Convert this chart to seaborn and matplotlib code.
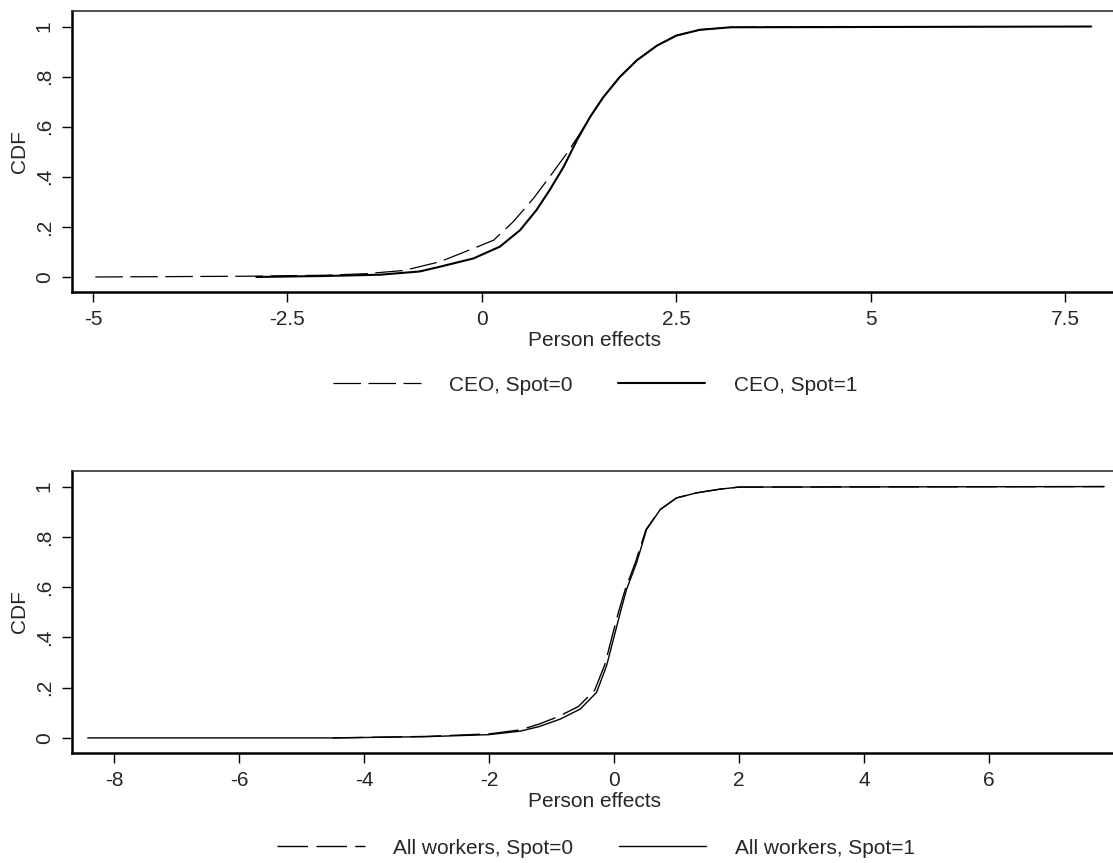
import matplotlib
matplotlib.use("Agg")

import matplotlib.pyplot as plt
import seaborn as sns

sns.set_style("ticks")
plt.rcParams.update({
    "font.family": ["Liberation Sans", "DejaVu Sans"],
    "font.size": 15,
    "axes.unicode_minus": False,
})

# CEO panel
ceo_x_spot0 = [-4.97, -3.0, -2.0, -1.5, -1.0, -0.54, -0.11, 0.15, 0.40, 0.66, 0.87,
               1.09, 1.26, 1.39, 1.56, 1.77, 1.99, 2.25, 2.50, 2.80, 3.2, 4.7]
ceo_y_spot0 = [0.0, 0.003, 0.007, 0.013, 0.026, 0.061, 0.114, 0.147, 0.22, 0.313, 0.40,
               0.493, 0.573, 0.639, 0.718, 0.798, 0.865, 0.924, 0.964, 0.987, 0.997, 1.0]
ceo_x_spot1 = [-2.9, -2.0, -1.31, -0.80, -0.54, -0.11, 0.23, 0.49, 0.70, 0.87, 1.05,
               1.22, 1.39, 1.56, 1.77, 1.99, 2.25, 2.50, 2.80, 3.2, 7.83]
ceo_y_spot1 = [0.0, 0.004, 0.009, 0.022, 0.041, 0.074, 0.121, 0.187, 0.267, 0.347, 0.44,
               0.546, 0.639, 0.718, 0.798, 0.865, 0.924, 0.964, 0.987, 0.997, 1.0]

# all workers panel
all_x_spot0 = [-4.5, -3.0, -2.0, -1.5, -1.2, -0.89, -0.57, -0.31, -0.15, -0.04, 0.07,
               0.18, 0.34, 0.51, 0.74, 1.0, 1.32, 1.7, 2.0, 7.84]
all_y_spot0 = [0.0, 0.006, 0.016, 0.032, 0.055, 0.085, 0.125, 0.19, 0.29, 0.395, 0.50,
               0.592, 0.697, 0.829, 0.909, 0.955, 0.975, 0.99, 0.998, 1.0]
all_x_spot1 = [-8.42, -4.5, -3.0, -2.0, -1.5, -1.2, -0.86, -0.54, -0.28, -0.12, -0.01,
               0.10, 0.20, 0.36, 0.52, 0.74, 1.0, 1.32, 1.7, 2.0, 7.84]
all_y_spot1 = [0.0, 0.0, 0.005, 0.013, 0.027, 0.045, 0.075, 0.115, 0.181, 0.287, 0.393,
               0.499, 0.591, 0.697, 0.829, 0.909, 0.955, 0.975, 0.99, 0.998, 1.0]

y_ticks = [0, 0.2, 0.4, 0.6, 0.8, 1.0]
y_labels = ["0", ".2", ".4", ".6", ".8", "1"]
ceo_ticks = [-5, -2.5, 0, 2.5, 5, 7.5]
ceo_labels = ["-5", "-2.5", "0", "2.5", "5", "7.5"]
all_ticks = [-8, -6, -4, -2, 0, 2, 4, 6]
all_labels = ["-8", "-6", "-4", "-2", "0", "2", "4", "6"]

W, H = 1113, 863
fig = plt.figure(figsize=(W / 100, H / 100), dpi=100)
ax1 = fig.add_axes([72 / W, 1 - 292 / H, (1116 - 72) / W, (292 - 11) / H])
ax2 = fig.add_axes([72 / W, 1 - 753 / H, (1116 - 72) / W, (753 - 471) / H])

dash = (0, (22, 6))

sns.lineplot(x=ceo_x_spot0, y=ceo_y_spot0, ax=ax1, color="black", linewidth=0.9,
             linestyle=dash, sort=False, label="CEO, Spot=0")
sns.lineplot(x=ceo_x_spot1, y=ceo_y_spot1, ax=ax1, color="black", linewidth=1.5,
             sort=False, label="CEO, Spot=1")
sns.lineplot(x=all_x_spot0, y=all_y_spot0, ax=ax2, color="black", linewidth=1.0,
             linestyle=dash, sort=False, label="All workers, Spot=0")
sns.lineplot(x=all_x_spot1, y=all_y_spot1, ax=ax2, color="black", linewidth=1.0,
             sort=False, label="All workers, Spot=1")

setup = [
    (ax1, (-5.27, 8.15), ceo_ticks, ceo_labels, 1 - 385 / H, 595 / W),
    (ax2, (-8.672, 8.03), all_ticks, all_labels, 1 - 848 / H, 596 / W),
]
for ax, xlim, xt, xl, leg_y, leg_x in setup:
    ax.set_xlim(*xlim)
    ax.set_ylim(-0.06, 1.062)
    ax.set_xticks(xt)
    ax.set_xticklabels(xl)
    ax.set_yticks(y_ticks)
    ax.set_yticklabels(y_labels, rotation=90, va="center")
    ax.set_xlabel("Person effects", labelpad=1)
    ax.set_ylabel("CDF", labelpad=4)
    ax.tick_params(direction="out", length=7.2, width=1.0, color="black", pad=6)
    for side in ["top", "right"]:
        ax.spines[side].set_linewidth(1.2)
        ax.spines[side].set_color("#333333")
    for side in ["bottom", "left"]:
        ax.spines[side].set_linewidth(1.8)
        ax.spines[side].set_color("black")
    ax.legend(loc="center", bbox_to_anchor=(leg_x, leg_y), bbox_transform=fig.transFigure,
              ncol=2, frameon=False, handlelength=4.2, handletextpad=1.35,
              columnspacing=2.2, fontsize=15)

fig.savefig("out.png", dpi=100, facecolor="white")
